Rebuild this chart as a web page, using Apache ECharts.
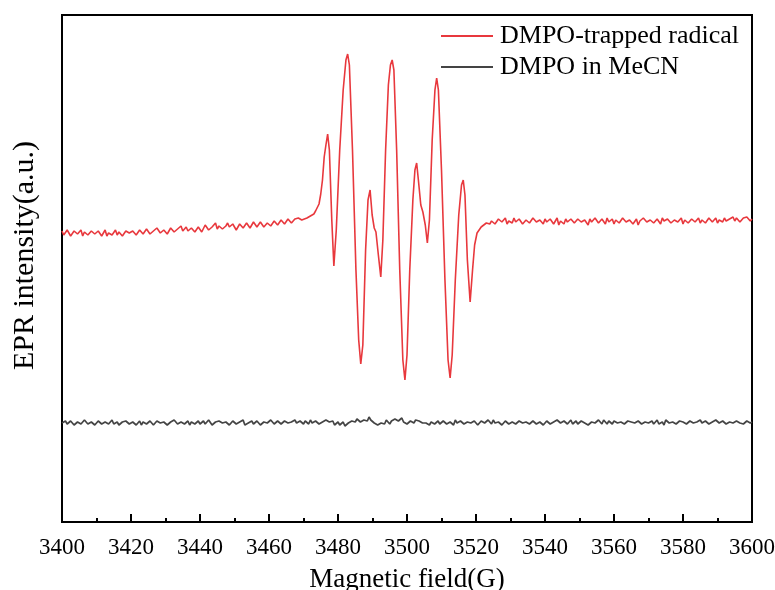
<!DOCTYPE html>
<html>
<head>
<meta charset="utf-8">
<script src="https://cdn.jsdelivr.net/npm/echarts@6/dist/echarts.min.js"></script>
<style>html,body{margin:0;padding:0;background:#fff}#c{width:775px;height:590px}</style>
</head>
<body>
<div id="c"></div>
<script>
// Tick labels of the field axis (G)
const fieldTicks = [3400,3420,3440,3460,3480,3500,3520,3540,3560,3580,3600];
const seriesNames = ['DMPO-trapped radical','DMPO in MeCN'];

// DMPO-trapped radical: baseline before the signal, sampled every 0.5 G (3400..3469.5)
const redLeftIntensity = [
291,287, 288,292, 290,286, 287,291, 291,288, 289,292, 286,290, 290,287, 288,291, 291,288,
287,291, 290,286, 288,292, 286,289, 291,287, 289,292, 287,290, 290,286, 288,291, 292,289,
288,291, 290,287, 287,292, 291,288, 289,293, 292,288, 288,291, 290,294, 293,289, 289,292,
292,288, 290,294, 294,290, 289,293, 292,296, 291,289, 295,291, 290,294, 293,290, 291,295,
294,290, 292,297, 296,292, 291,295, 295,299, 293,296, 297,293, 292,296, 299,295, 294,298,
296,292, 293,298, 298,294, 295,299, 297,294, 294,300, 299,295, 296,300, 298,295, 295,299,
299,296, 297,301, 300,297, 298,302, 301,298, 299,303, 302,299, 300,303, 301,304, 303,302];

// the hyperfine signal region
const redMidField = [3470,3471,3472,3473,3473.5,3474,3474.5,3475,3475.5,3476,3476.5,3477,3477.5,3478.2,3478.8,3479.5,3480.5,3481.5,3482.3,3482.8,3483.3,3484.2,3485.2,3486,3486.6,3487.2,3488,3488.7,3489.3,3489.9,3490.5,3491,3491.7,3492.4,3493,3493.8,3494.6,3495.2,3495.7,3496.2,3497,3497.9,3498.8,3499.4,3500,3500.8,3501.7,3502.3,3502.8,3503.3,3504,3504.6,3505.3,3505.9,3506.5,3507.3,3508.1,3508.6,3509.1,3510,3511,3511.9,3512.5,3513.1,3514,3515,3515.8,3516.3,3516.8,3517.5,3518.3,3519,3519.6,3520.3,3521.5,3523];
const redMidIntensity = [303,304,306,308,311,313,318,328,342,365,377,388,372,302,256,292,372,432,462,468,457,372,252,182,158,177,272,322,332,307,294,290,267,245,282,372,437,457,462,452,372,252,162,142,167,252,322,352,359,342,317,310,297,279,302,382,432,444,432,352,242,162,144,167,242,307,337,342,327,262,220,252,277,289,295,299];

// baseline after the signal, every 0.5 G (3524..3600)
const redRightIntensity = [
298,301, 302,298, 299,303, 303,300, 300,304, 298,301, 302,299, 304,300, 299,303, 301,298,
297,302, 302,299, 300,304, 304,300, 298,302, 301,298, 303,300, 299,303, 302,298, 300,304,
297,301, 301,298, 303,300, 299,303, 302,299, 300,303, 304,300, 298,302, 301,297, 303,300,
300,304, 302,299, 299,303, 301,298, 304,300, 300,303, 298,302, 302,299, 301,304, 303,300,
299,302, 302,298, 300,303, 297,301, 301,304, 303,300, 300,302, 302,299, 299,303, 301,298,
304,301, 300,303, 302,299, 299,302, 303,300, 301,304, 298,302, 302,299, 300,303, 304,300,
301,304, 299,302, 302,299, 300,304, 303,300, 301,304, 299,302, 302,300, 304,301, 300,303,
302,305, 301,304, 303,300, 300,304, 302,305, 304,301, 303];

// DMPO in MeCN, every 0.5 G (3400..3600)
const greyIntensity = [
99,97, 101,98, 98,101, 100,97, 97,100, 100,98, 99,102, 101,98, 98,100, 100,97,
98,101, 100,98, 97,100, 101,98, 99,102, 98,100, 100,97, 97,100, 99,101, 101,98,
98,100, 100,97, 99,101, 97,100, 101,98, 98,101, 100,97, 99,101, 102,99, 98,100,
100,97, 97,100, 99,102, 101,98, 98,100, 100,98, 99,101, 97,100, 101,98, 99,101,
98,100, 101,98, 99,102, 100,97, 97,100, 99,101, 102,99, 98,100, 100,97, 99,101,
101,98, 98,100, 100,102, 97,99, 99,101, 101,98, 99,101, 100,97, 98,100, 101,99,
99,102, 100,98, 98,101, 101,98, 99,101, 102,99, 98,100, 100,102, 99,97, 101,99,
98,101, 100,98, 102,99, 99,101, 101,98, 98,100, 100,102, 103,100, 99,101, 97,99,
100,97, 98,100, 96,98, 99,101, 101,99, 100,103, 102,100, 100,102, 103,101, 105,102,
101,99, 99,97, 97,99, 100,98, 102,100, 98,101, 101,103, 104,101, 102,104, 100,98,
98,100, 101,99, 99,102, 103,101, 101,99, 97,99, 99,97, 100,98, 98,100, 101,98,
99,101, 101,98, 98,100, 100,97, 102,99, 99,101, 100,98, 98,100, 101,99, 99,101,
100,97, 98,101, 101,99, 99,102, 100,98, 102,99, 98,100, 100,97, 99,101, 101,98,
98,100, 100,98, 99,101, 101,99, 97,100, 100,98, 99,101, 101,98, 98,100, 100,97,
99,101, 101,98, 98,100, 100,102, 102,99, 99,101, 101,98, 100,102, 98,100, 101,98,
99,101, 102,99, 100,97, 98,100, 101,99, 99,102, 100,98, 102,100, 98,101, 100,98,
101,99, 99,101, 100,98, 98,100, 101,99, 100,102, 99,97, 101,99, 98,100, 100,98,
99,101, 101,98, 100,102, 98,100, 100,97, 102,100, 99,101, 100,98, 98,100, 101,99,
100,102, 98,100, 101,99, 99,101, 100,98, 102,99, 99,101, 101,98, 98,100, 100,102,
101,99, 99,101, 100,98, 98,100, 101,99, 99,101, 102,99, 100,98, 99,101, 101,99,
100];

// sample grids (0.5 G spacing) for the measured baselines
const halfStep = (start, n) => Array.from({length: n}, (_, i) => start + i * 0.5);
const redLeftField = halfStep(3400, redLeftIntensity.length);
const redRightField = halfStep(3524, redRightIntensity.length);
const greyField = halfStep(3400, greyIntensity.length);

const redField = redLeftField.concat(redMidField, redRightField);
const redIntensity = redLeftIntensity.concat(redMidIntensity, redRightIntensity);
const redData = redField.map((x, i) => [x, redIntensity[i]]);
const greyData = greyField.map((x, i) => [x, greyIntensity[i]]);

const FONT = 'Liberation Serif';
const RED = '#e8383d', GREY = '#444';
const chart = echarts.init(document.getElementById('c'), null, {renderer: 'canvas'});
chart.setOption({
  animation: false,
  backgroundColor: '#fff',
  grid: {left: 62, right: 23, top: 15, bottom: 68, show: true, borderColor: '#000', borderWidth: 2, containLabel: false, outerBoundsMode: 'none'},
  legend: {
    orient: 'vertical', left: 441, top: 23, itemGap: 5, itemWidth: 52, itemHeight: 2, padding: 0,
    icon: 'rect',
    textStyle: {fontFamily: FONT, fontSize: 26, color: '#000', lineHeight: 26, padding: [0,0,0,2]},
    data: [
      {name: seriesNames[0], itemStyle: {color: RED}},
      {name: seriesNames[1], itemStyle: {color: GREY}}
    ]
  },
  xAxis: {
    type: 'value', min: fieldTicks[0], max: fieldTicks[fieldTicks.length-1], interval: 20,
    name: 'Magnetic field(G)', nameLocation: 'middle', nameGap: 44,
    nameTextStyle: {fontFamily: FONT, fontSize: 27, color: '#000'},
    axisLine: {lineStyle: {color: '#000', width: 2}},
    axisTick: {inside: true, length: 8, lineStyle: {color: '#000', width: 2}},
    minorTick: {show: true, splitNumber: 2, length: 4, lineStyle: {color: '#000', width: 2}},
    axisLabel: {fontFamily: FONT, fontSize: 23, color: '#000', margin: 14, formatter: v => String(v)},
    splitLine: {show: false}
  },
  yAxis: {
    type: 'value', min: 0, max: 507,
    name: 'EPR intensity(a.u.)', nameLocation: 'middle', nameGap: 22, nameRotate: 90,
    nameTextStyle: {fontFamily: FONT, fontSize: 30, color: '#000', padding: [0, 0, 0, 26]},
    axisLine: {show: true, lineStyle: {color: '#000', width: 2}},
    axisTick: {show: false}, axisLabel: {show: false}, splitLine: {show: false}
  },
  series: [
    {name: seriesNames[0], type: 'line', data: redData, showSymbol: false, lineStyle: {color: RED, width: 1.6}, itemStyle: {color: RED}, z: 3},
    {name: seriesNames[1], type: 'line', data: greyData, showSymbol: false, lineStyle: {color: GREY, width: 1.7}, itemStyle: {color: GREY}, z: 2}
  ]
});
</script>
</body>
</html>
